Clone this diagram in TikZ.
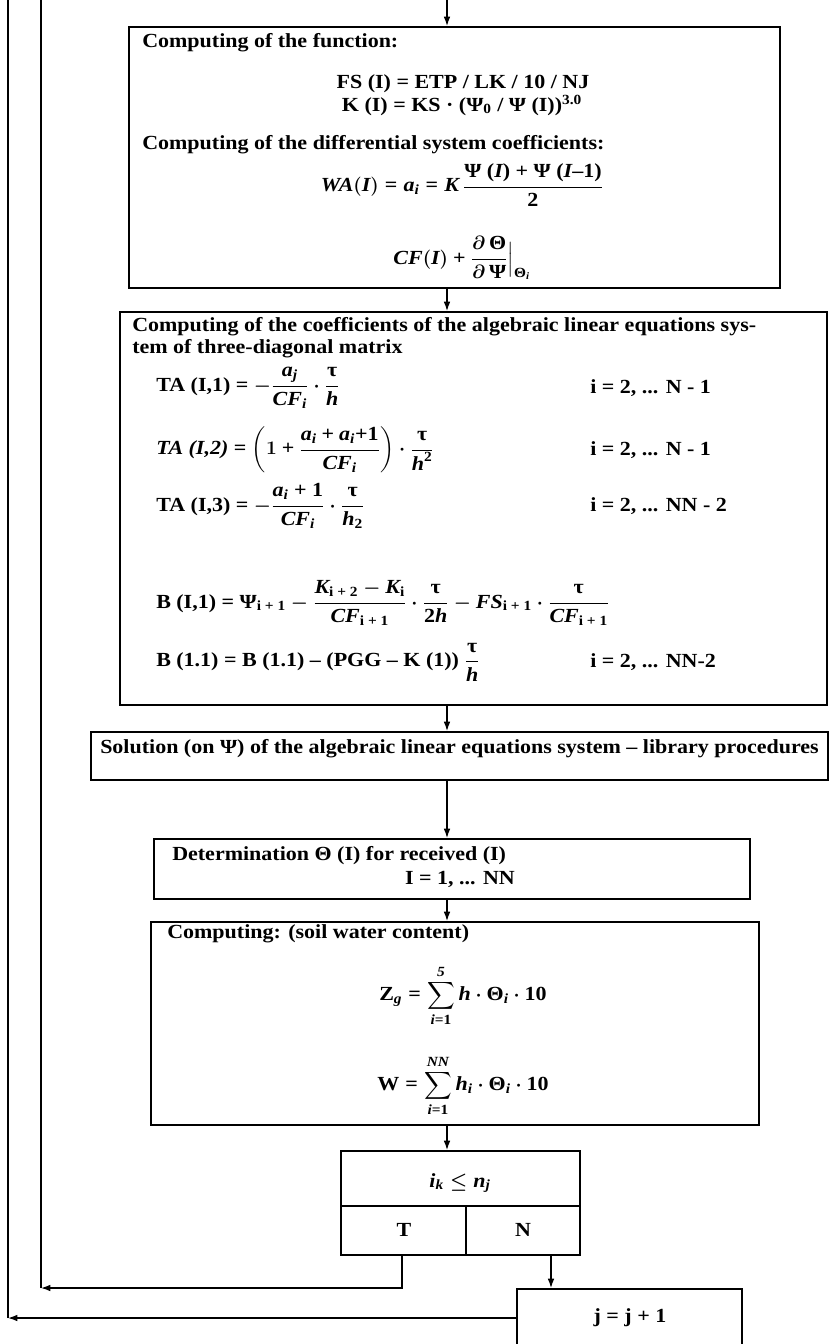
\documentclass[tikz,border=0pt]{standalone}
\usepackage{fontspec}
\setmainfont{Liberation Serif}[FakeStretch=1.1]
\usepackage{amsmath}
\usetikzlibrary{arrows.meta,fit}

\newcommand{\vv}[1]{\text{\itshape #1}}
\newcommand{\eq}{\mathrel{\text{=}}}
\newcommand{\pl}{\mathbin{\text{+}}}

\begin{document}
\begin{tikzpicture}[x=0.75pt, y=-0.75pt,
  font=\fontsize{15}{16.5}\selectfont\bfseries\boldmath,
  blk/.style={draw, line width=1.4pt, inner sep=0pt},
  txt/.style={inner sep=0pt, anchor=west},
  frm/.style={inner sep=0pt},
  arr/.style={-{Latex[length=7pt,width=5pt]}, line width=1pt},
  ln/.style={line width=1pt}]
\useasboundingbox (0,0) rectangle (830,1344);
\clip (0,0) rectangle (830,1344);

% ---------------- boxes
\node[blk, fit={(129,27) (780,288)}] (fun) {};
\node[blk, fit={(120,312) (827,705)}] (coef) {};
\node[blk, fit={(91,732) (828,780)}] (sol) {Solution (on Ψ) of the algebraic linear equations system – library procedures};
\node[blk, fit={(154,839) (750,899)}] (det) {};
\node[blk, fit={(151,922) (759,1125)}] (comp) {};
\node[blk, fit={(341,1151) (580,1255)}] (dec) {};
\node[blk, fit={(517,1289) (742,1370)}] (jinc) {};

% ---------------- function and coefficients
\node[txt] (funT) at (142,43) {Computing of the function:};
\node[frm] (fs) at (463,84) {FS (I) = ETP / LK / 10 / NJ};
\node[frm] (ks) at (462,105) {K (I) = KS · (Ψ\textsubscript{0} / Ψ (I))\textsuperscript{3.0}};
\node[txt] (difT) at (142,145) {Computing of the differential system coefficients:};
\node[frm] (wa) at (462,185) {$\vv{WA}(\vv{I}) \eq \vv{a}_{\vv{i}} \eq \vv{K}\,\dfrac{\text{Ψ (\vv{I}) + Ψ (\vv{I}–1)}}{\text{2}}$};
\node[frm] (cf) at (462,258) {$\vv{CF}(\vv{I}) \pl \dfrac{\partial\,\text{Θ}}{\partial\,\text{Ψ}}\Big|_{\text{Θ}_{\vv{i}}}$};

% ---------------- three-diagonal system
\node[txt, anchor=north west, align=left] (coefT) at (132,317) {Computing of the coefficients of the algebraic linear equations sys-\\tem of three-diagonal matrix};
\node[txt] (ta1) at (156,388) {TA (I,1) = $-\dfrac{\vv{a}_{\vv{j}}}{\vv{CF}_{\vv{i}}}\cdot\dfrac{\text{τ}}{\vv{h}}$};
\node[txt] (ta2) at (156,450) {\textit{TA (I,2)} = $\left(1\pl\dfrac{\vv{a}_{\vv{i}}\pl\vv{a}_{\vv{i}}\text{+1}}{\vv{CF}_{\vv{i}}}\right)\cdot\dfrac{\text{τ}}{\vv{h}^{\text{2}}}$};
\node[txt] (ta3) at (156,506) {TA (I,3) = $-\dfrac{\vv{a}_{\vv{i}}\text{ + 1}}{\vv{CF}_{\vv{i}}}\cdot\dfrac{\text{τ}}{\vv{h}_{\text{2}}}$};
\node[txt] (b1) at (156,603) {B (I,1) = $\text{Ψ}_{\text{i + 1}} - \dfrac{\vv{K}_{\text{i + 2}}-\vv{K}_{\text{i}}}{\vv{CF}_{\text{i + 1}}}\cdot\dfrac{\text{τ}}{\text{2}\vv{h}} - \vv{FS}_{\text{i + 1}}\cdot\dfrac{\text{τ}}{\vv{CF}_{\text{i + 1}}}$};
\node[txt] (b2) at (156,662) {B (1.1) = B (1.1) – (PGG – K (1)) $\dfrac{\text{τ}}{\vv{h}}$};
\node[txt] (r1) at (590,388) {i = 2, ... N - 1};
\node[txt] (r2) at (590,450) {i = 2, ... N - 1};
\node[txt] (r3) at (590,506) {i = 2, ... NN - 2};
\node[txt] (r5) at (590,662) {i = 2, ... NN-2};

% ---------------- water content
\node[txt] (detT) at (172,856) {Determination Θ (I) for received (I)};
\node[frm] (detI) at (460,879) {I = 1, ... NN};
\node[txt] (compT) at (167,934) {Computing: (soil water content)};
\node[frm] (zg) at (463,996) {$\displaystyle \text{Z}_{\vv{g}} \eq \sum_{\vv{i}\text{=1}}^{\vv{5}} \vv{h}\cdot\text{Θ}_{\vv{i}}\cdot\text{10}$};
\node[frm] (wsum) at (463,1086) {$\displaystyle \text{W} \eq \sum_{\vv{i}\text{=1}}^{\vv{NN}} \vv{h}_{\vv{i}}\cdot\text{Θ}_{\vv{i}}\cdot\text{10}$};

% ---------------- decision
\draw[ln] (dec.west |- 0,1206) -- (dec.east |- 0,1206);
\draw[ln] (466,1206) -- (dec.south -| 466,0);
\node[frm] (cond) at (460,1183) {$\vv{i}_{\vv{k}} \le \vv{n}_{\vv{j}}$};
\node[frm] (yes) at (404,1230) {T};
\node[frm] (no) at (523,1230) {N};
\node[frm] (jT) at (630,1318) {j = j + 1};

% ---------------- connectors
\coordinate (ax) at (447,0);
\coordinate (tc) at (402,0);
\coordinate (nc) at (551,0);
\coordinate (lpT) at (41,1288);
\coordinate (lpJ) at (8,1318);
\draw[arr] (ax) -- (ax |- fun.north);
\draw[arr] (ax |- fun.south) -- (ax |- coef.north);
\draw[arr] (ax |- coef.south) -- (ax |- sol.north);
\draw[arr] (ax |- sol.south) -- (ax |- det.north);
\draw[arr] (ax |- det.south) -- (ax |- comp.north);
\draw[arr] (ax |- comp.south) -- (ax |- dec.north);
\draw[arr] (tc |- dec.south) |- (lpT);
\draw[ln] (lpT) -- (lpT |- ax);
\draw[arr] (nc |- dec.south) -- (nc |- jinc.north);
\draw[arr] (jinc.west |- lpJ) -- (lpJ);
\draw[ln] (lpJ) -- (lpJ |- ax);
\end{tikzpicture}
\end{document}
